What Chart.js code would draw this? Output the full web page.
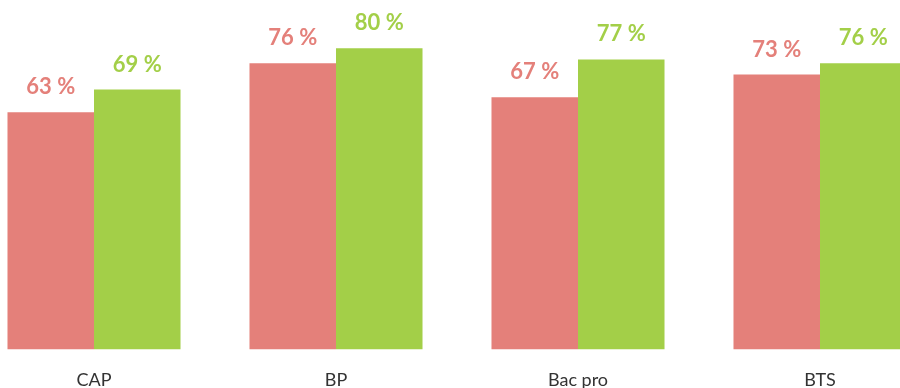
<!DOCTYPE html>
<html>
<head>
<meta charset="utf-8">
<script src="https://cdn.jsdelivr.net/npm/chart.js@4/dist/chart.umd.min.js"></script>
<style>
  html, body { margin: 0; padding: 0; background: #fff; overflow: hidden; }
  #wrap { position: absolute; left: -27px; top: 0; width: 968px; height: 411px; }
</style>
</head>
<body>
<div id="wrap"><canvas id="myChart"></canvas></div>
<script>
// diplômes et taux par série
var categories = ['CAP', 'BP', 'Bac pro', 'BTS'];
var serieRouge = [63, 76, 67, 73];
var serieVerte = [69, 80, 77, 76];

var rouge = '#E4807A';
var vert = '#A3CF48';

// Affiche la valeur au-dessus de chaque barre
var valeurPlugin = {
    id: 'valeurs',
    afterDatasetsDraw: function (chart) {
        var ctx = chart.ctx;
        ctx.save();
        ctx.font = 'bold 22px Lato';
        ctx.textAlign = 'center';
        ctx.textBaseline = 'alphabetic';
        chart.data.datasets.forEach(function (ds, i) {
            var meta = chart.getDatasetMeta(i);
            ctx.fillStyle = ds.backgroundColor;
            meta.data.forEach(function (bar, j) {
                ctx.fillText(ds.data[j] + ' %', bar.x, bar.y - 18);
            });
        });
        ctx.restore();
    }
};

var ctx = document.getElementById('myChart').getContext('2d');
var myChart = new Chart(ctx, {
    type: 'bar',
    data: {
        labels: categories,
        datasets: [{
            data: serieRouge,
            backgroundColor: rouge,
            categoryPercentage: 0.715,
            barPercentage: 1
        }, {
            data: serieVerte,
            backgroundColor: vert,
            categoryPercentage: 0.715,
            barPercentage: 1
        }]
    },
    options: {
        responsive: true,
        maintainAspectRatio: false,
        animation: false,
        layout: { padding: 0 },
        plugins: {
            legend: { display: false },
            tooltip: { enabled: false }
        },
        scales: {
            x: {
                grid: { display: false, drawTicks: false },
                border: { display: false },
                ticks: {
                    color: '#333',
                    padding: 20,
                    font: { family: 'Lato', size: 18 }
                }
            },
            y: {
                display: false,
                min: 0,
                max: 92.8
            }
        }
    },
    plugins: [valeurPlugin]
});
</script>
</body>
</html>
